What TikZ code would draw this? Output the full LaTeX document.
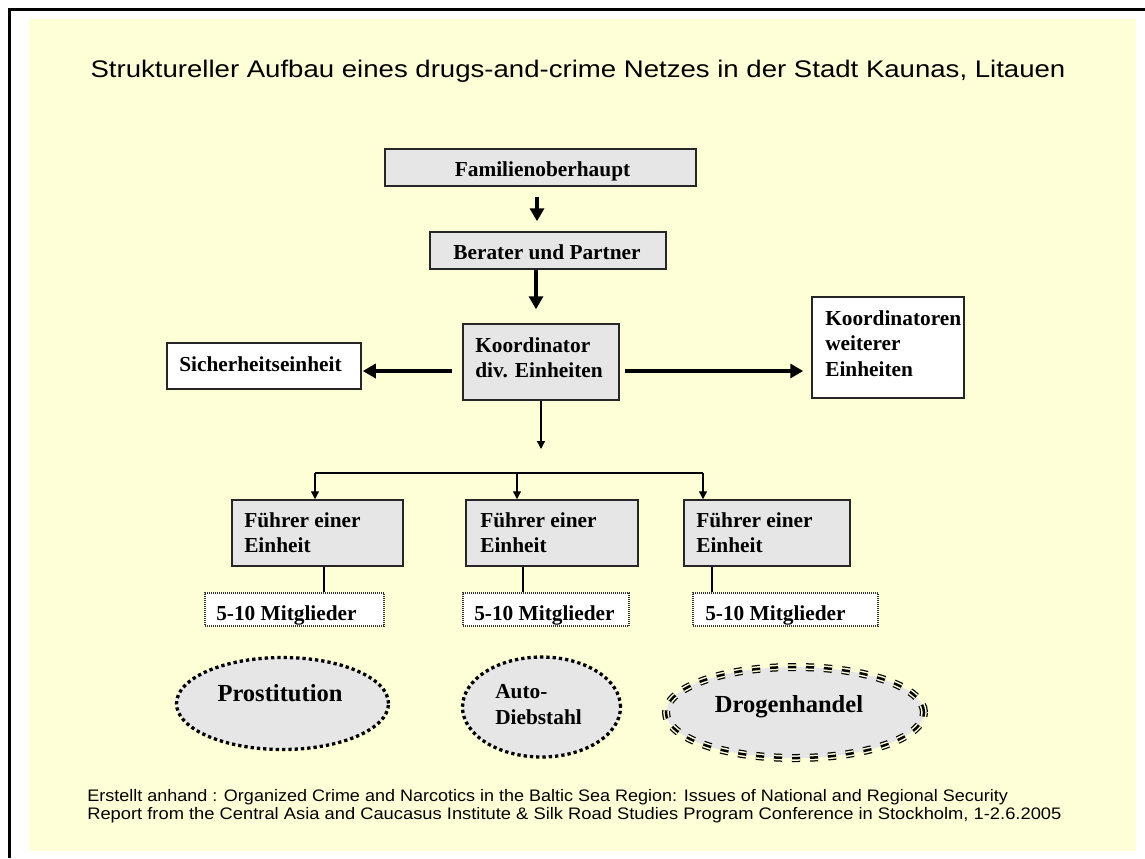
\documentclass[tikz,border=0pt]{standalone}
\usepackage{fontspec}
\usepackage{graphicx}
\setmainfont{Liberation Serif}
\newfontfamily\sansfont{Liberation Sans}
\usetikzlibrary{shapes.geometric,arrows.meta}
\newdimen\px
\px=0.75pt
\definecolor{paper}{RGB}{255,255,215}
\definecolor{boxgray}{RGB}{230,230,230}
\begin{document}
\begin{tikzpicture}[x=0.75pt, y=-0.75pt,
  box/.style={draw=black!85, line width=1.5\px, inner sep=0pt},
  greybox/.style={box, fill=boxgray},
  whitebox/.style={box, fill=white},
  members/.style={draw=black!80, line width=1.2\px, dash pattern=on 1\px off 1\px, fill=white, inner sep=0pt},
  lbl/.style={font=\bfseries\fontsize{16}{19.3}\selectfont, inner sep=0pt},
  llbl/.style={lbl, align=left, anchor=west},
  big/.style={font=\bfseries\fontsize{18.4}{22}\selectfont, inner sep=0pt},
  note/.style={font=\sansfont\fontsize{12.5}{14}\selectfont, inner sep=0pt, anchor=base west},
  heavy arrow/.style={line width=4\px, -{Triangle[length=9.75pt,width=10.5pt]}},
  fine arrow/.style={line width=1.3\px, -{Triangle[length=6pt,width=6pt]}},
  fine line/.style={line width=1.3\px},
  blob/.style={ellipse, fill=boxgray, inner sep=0pt},
  dotring/.style={blob, draw=black, line width=3.3\px, dash pattern=on 3.3\px off 3\px},
  triring/.style={blob, draw=black, line width=8\px, dash pattern=on 8\px off 10\px,
    postaction={draw=paper, line width=5.5\px, dash pattern=on 8\px off 10\px},
    postaction={draw=black, line width=2.5\px, dash pattern=on 8\px off 10\px}},
]
\useasboundingbox (0,0) rectangle (1145,858);

% page frame and panel
\draw[line width=3\px] (9.5,858) -- (9.5,9.5) -- (1145,9.5);
\fill[paper] (29,19) rectangle (1136,851);

% title
\node[font=\sansfont\fontsize{18}{21}\selectfont, inner sep=0pt, anchor=base] (title) at (578,77)
  {\scalebox{1.149}[1]{Struktureller Aufbau eines drugs-and-crime Netzes in der Stadt Kaunas, Litauen}};

% top of the hierarchy
\node[greybox, minimum width=311\px, minimum height=37\px] (fam) at (540.5,167.5) {};
\node[lbl, anchor=base] (famT) at (542.5,176) {Familienoberhaupt};

\node[greybox, minimum width=236\px, minimum height=37\px] (ber) at (548,250.5) {};
\node[lbl, anchor=base] (berT) at (547,259) {Berater und Partner};

\node[greybox, minimum width=156\px, minimum height=76\px] (koo) at (541,362) {};
\node[llbl] (kooT) at (475,357.75) {Koordinator\\div. Einheiten};

\node[whitebox, minimum width=194\px, minimum height=46\px] (sec) at (264,366) {};
\node[lbl, anchor=base west] (secT) at (179,371) {Sicherheitseinheit};

\node[whitebox, minimum width=152\px, minimum height=101\px] (kw) at (888,347.5) {};
\node[llbl] (kwT) at (825,343.5) {Koordinatoren\\weiterer\\Einheiten};

% unit leaders
\node[greybox, minimum width=171\px, minimum height=66\px] (fu1) at (317.5,533) {};
\node[llbl] (fu1T) at (244,532.75) {Führer einer\\Einheit};
\node[greybox, minimum width=172\px, minimum height=66\px] (fu2) at (552,533) {};
\node[llbl] (fu2T) at (480,532.75) {Führer einer\\Einheit};
\node[greybox, minimum width=166\px, minimum height=66\px] (fu3) at (767,533) {};
\node[llbl] (fu3T) at (696,532.75) {Führer einer\\Einheit};

% members
\node[members, minimum width=179\px, minimum height=33\px] (mem1) at (294.5,609.5) {};
\node[lbl, anchor=base west] (mem1T) at (216,620) {5-10 Mitglieder};
\node[members, minimum width=166\px, minimum height=33\px] (mem2) at (546,609.5) {};
\node[lbl, anchor=base west] (mem2T) at (474,620) {5-10 Mitglieder};
\node[members, minimum width=185\px, minimum height=33\px] (mem3) at (785.5,609.5) {};
\node[lbl, anchor=base west] (mem3T) at (705,620) {5-10 Mitglieder};

% fields of activity
\node[dotring, minimum width=212\px, minimum height=92\px] (pro) at (282.5,703.5) {};
\node[big, anchor=base] (proT) at (280,701) {Prostitution};
\node[dotring, minimum width=158\px, minimum height=100\px] (auto) at (541.5,707) {};
\node[llbl] (autoT) at (495,704.75) {Auto-\\Diebstahl};
\node[triring, minimum width=258\px, minimum height=91\px] (drg) at (795,712.5) {};
\node[big, anchor=base] (drgT) at (789,712) {Drogenhandel};

% connectors
\draw[heavy arrow, shorten <=10\px, shorten >=10\px] ([xshift=-3.5\px]fam.south) -- ([xshift=-11\px]ber.north);
\draw[heavy arrow, shorten >=14\px] ([xshift=-12\px]ber.south) -- ([xshift=-5\px]koo.north);
\draw[heavy arrow, shorten <=10\px, shorten >=1\px] ([yshift=-9\px]koo.west) -- ([yshift=-5\px]sec.east);
\draw[heavy arrow, shorten <=5\px, shorten >=8\px] ([yshift=-9\px]koo.east) -- ([yshift=-23.5\px]kw.west);

\coordinate (split) at (541,449);
\draw[fine arrow] (koo.south) -- (split);

\coordinate (d1) at (315,473);
\coordinate (d2) at (517,473);
\coordinate (d3) at (703,473);
\draw[fine line] (d1) -- (d3);
\draw[fine arrow] (d1) -- (d1 |- fu1.north);
\draw[fine arrow] (d2) -- (d2 |- fu2.north);
\draw[fine arrow] (d3) -- (d3 |- fu3.north);

\draw[fine line] ([xshift=6.5\px]fu1.south) -- ([xshift=6.5\px]fu1.south |- mem1.north);
\draw[fine line] ([xshift=-29\px]fu2.south) -- ([xshift=-29\px]fu2.south |- mem2.north);
\draw[fine line] ([xshift=-55\px]fu3.south) -- ([xshift=-55\px]fu3.south |- mem3.north);

% source note
\node[note] (src1) at (87,801)
  {\scalebox{1.08}[1]{Erstellt anhand : Organized Crime and Narcotics in the Baltic Sea Region: Issues of National and Regional Security}};
\node[note] (src2) at (87,819.5)
  {\scalebox{1.10}[1]{Report from the Central Asia and Caucasus Institute \& Silk Road Studies Program Conference in Stockholm, 1-2.6.2005}};
\end{tikzpicture}
\end{document}
